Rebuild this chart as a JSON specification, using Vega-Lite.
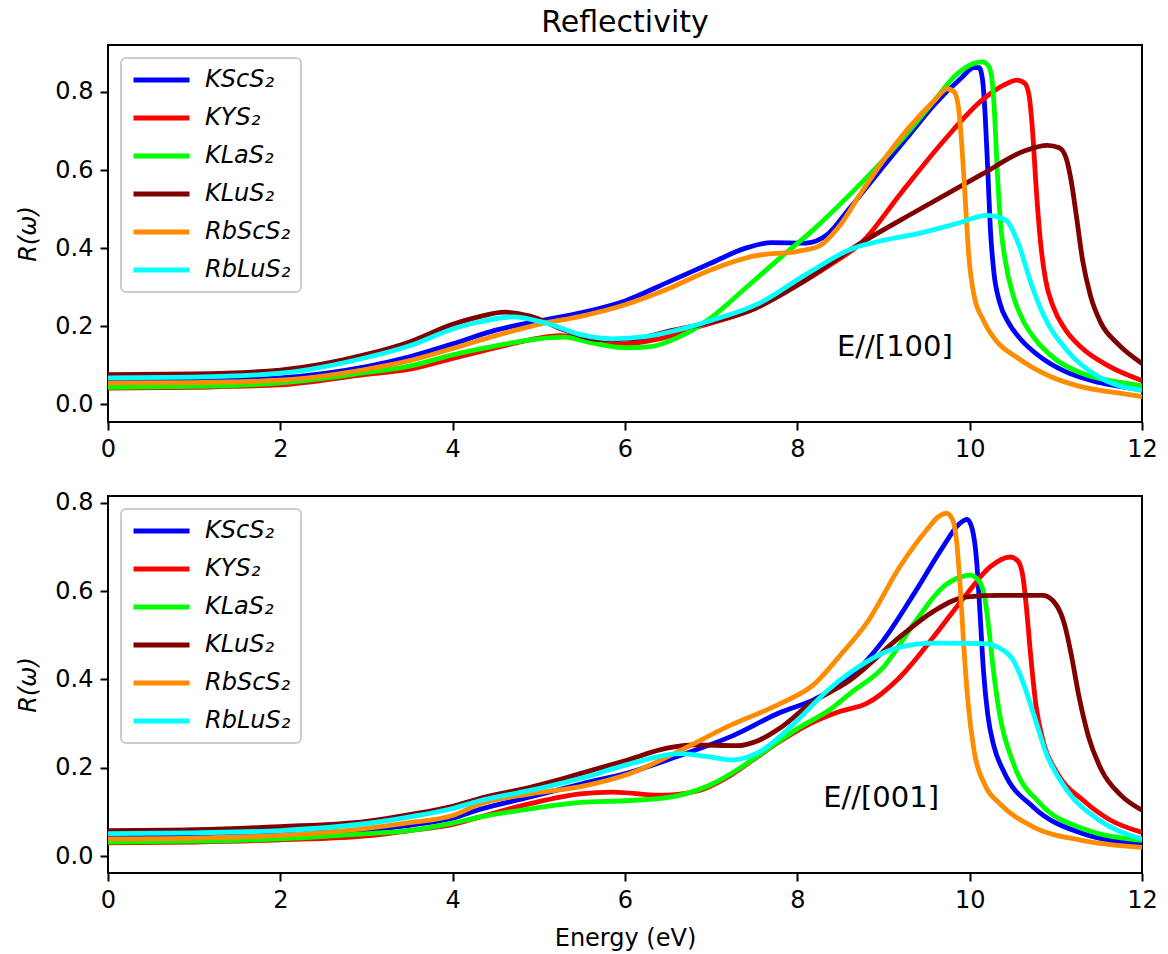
{
"$schema": "https://vega.github.io/schema/vega-lite/v6.json",
"padding": {"left": 15, "top": 8, "right": 5, "bottom": 5},
"background": "white",
"title": {"text": "Reflectivity", "fontSize": 30, "fontWeight": "normal", "anchor": "middle", "frame": "group", "offset": -18, "baseline": "alphabetic", "color": "#000", "font": "DejaVu Sans"},
"datasets": {
"top": [
{"m":"KScS₂","E":0,"R":0.058},{"m":"KScS₂","E":1,"R":0.06},{"m":"KScS₂","E":2,"R":0.068},{"m":"KScS₂","E":3,"R":0.097},{"m":"KScS₂","E":3.5,"R":0.122},{"m":"KScS₂","E":4,"R":0.155},{"m":"KScS₂","E":4.5,"R":0.19},{"m":"KScS₂","E":5,"R":0.214},{"m":"KScS₂","E":5.5,"R":0.235},{"m":"KScS₂","E":6,"R":0.265},{"m":"KScS₂","E":6.5,"R":0.313},{"m":"KScS₂","E":7,"R":0.362},{"m":"KScS₂","E":7.4,"R":0.4},{"m":"KScS₂","E":7.7,"R":0.414},{"m":"KScS₂","E":8.1,"R":0.413},{"m":"KScS₂","E":8.35,"R":0.435},{"m":"KScS₂","E":8.6,"R":0.5},{"m":"KScS₂","E":9,"R":0.61},{"m":"KScS₂","E":9.3,"R":0.69},{"m":"KScS₂","E":9.6,"R":0.77},{"m":"KScS₂","E":9.9,"R":0.835},{"m":"KScS₂","E":10.05,"R":0.862},{"m":"KScS₂","E":10.11,"R":0.862},{"m":"KScS₂","E":10.15,"R":0.83},{"m":"KScS₂","E":10.18,"R":0.74},{"m":"KScS₂","E":10.21,"R":0.6},{"m":"KScS₂","E":10.24,"R":0.45},{"m":"KScS₂","E":10.28,"R":0.34},{"m":"KScS₂","E":10.35,"R":0.26},{"m":"KScS₂","E":10.45,"R":0.21},{"m":"KScS₂","E":10.6,"R":0.165},{"m":"KScS₂","E":10.8,"R":0.125},{"m":"KScS₂","E":11.1,"R":0.085},{"m":"KScS₂","E":11.5,"R":0.056},{"m":"KScS₂","E":12,"R":0.038},
{"m":"KYS₂","E":0,"R":0.042},{"m":"KYS₂","E":1,"R":0.044},{"m":"KYS₂","E":2,"R":0.05},{"m":"KYS₂","E":3,"R":0.077},{"m":"KYS₂","E":3.5,"R":0.09},{"m":"KYS₂","E":4,"R":0.118},{"m":"KYS₂","E":4.5,"R":0.145},{"m":"KYS₂","E":5,"R":0.17},{"m":"KYS₂","E":5.25,"R":0.176},{"m":"KYS₂","E":5.6,"R":0.165},{"m":"KYS₂","E":6,"R":0.155},{"m":"KYS₂","E":6.4,"R":0.168},{"m":"KYS₂","E":6.9,"R":0.202},{"m":"KYS₂","E":7.5,"R":0.245},{"m":"KYS₂","E":8,"R":0.305},{"m":"KYS₂","E":8.4,"R":0.36},{"m":"KYS₂","E":8.75,"R":0.415},{"m":"KYS₂","E":9.2,"R":0.54},{"m":"KYS₂","E":9.7,"R":0.675},{"m":"KYS₂","E":10.15,"R":0.78},{"m":"KYS₂","E":10.4,"R":0.818},{"m":"KYS₂","E":10.55,"R":0.83},{"m":"KYS₂","E":10.64,"R":0.822},{"m":"KYS₂","E":10.69,"R":0.79},{"m":"KYS₂","E":10.73,"R":0.7},{"m":"KYS₂","E":10.77,"R":0.56},{"m":"KYS₂","E":10.82,"R":0.42},{"m":"KYS₂","E":10.88,"R":0.32},{"m":"KYS₂","E":10.97,"R":0.25},{"m":"KYS₂","E":11.1,"R":0.195},{"m":"KYS₂","E":11.3,"R":0.145},{"m":"KYS₂","E":11.6,"R":0.1},{"m":"KYS₂","E":12,"R":0.061},
{"m":"KLaS₂","E":0,"R":0.044},{"m":"KLaS₂","E":1,"R":0.046},{"m":"KLaS₂","E":2,"R":0.055},{"m":"KLaS₂","E":3,"R":0.082},{"m":"KLaS₂","E":3.5,"R":0.098},{"m":"KLaS₂","E":4,"R":0.127},{"m":"KLaS₂","E":4.5,"R":0.15},{"m":"KLaS₂","E":5,"R":0.168},{"m":"KLaS₂","E":5.3,"R":0.172},{"m":"KLaS₂","E":5.6,"R":0.158},{"m":"KLaS₂","E":6,"R":0.145},{"m":"KLaS₂","E":6.3,"R":0.148},{"m":"KLaS₂","E":6.6,"R":0.17},{"m":"KLaS₂","E":7,"R":0.222},{"m":"KLaS₂","E":7.4,"R":0.298},{"m":"KLaS₂","E":7.8,"R":0.375},{"m":"KLaS₂","E":8.2,"R":0.45},{"m":"KLaS₂","E":8.6,"R":0.535},{"m":"KLaS₂","E":9.2,"R":0.675},{"m":"KLaS₂","E":9.58,"R":0.775},{"m":"KLaS₂","E":9.85,"R":0.845},{"m":"KLaS₂","E":10.05,"R":0.873},{"m":"KLaS₂","E":10.15,"R":0.877},{"m":"KLaS₂","E":10.22,"R":0.866},{"m":"KLaS₂","E":10.26,"R":0.83},{"m":"KLaS₂","E":10.29,"R":0.74},{"m":"KLaS₂","E":10.32,"R":0.6},{"m":"KLaS₂","E":10.36,"R":0.46},{"m":"KLaS₂","E":10.42,"R":0.36},{"m":"KLaS₂","E":10.51,"R":0.275},{"m":"KLaS₂","E":10.62,"R":0.215},{"m":"KLaS₂","E":10.75,"R":0.17},{"m":"KLaS₂","E":11,"R":0.115},{"m":"KLaS₂","E":11.3,"R":0.08},{"m":"KLaS₂","E":11.6,"R":0.062},{"m":"KLaS₂","E":12,"R":0.048},
{"m":"KLuS₂","E":0,"R":0.076},{"m":"KLuS₂","E":1,"R":0.078},{"m":"KLuS₂","E":2,"R":0.088},{"m":"KLuS₂","E":3,"R":0.128},{"m":"KLuS₂","E":3.5,"R":0.16},{"m":"KLuS₂","E":4,"R":0.205},{"m":"KLuS₂","E":4.3,"R":0.224},{"m":"KLuS₂","E":4.6,"R":0.236},{"m":"KLuS₂","E":4.9,"R":0.226},{"m":"KLuS₂","E":5.3,"R":0.19},{"m":"KLuS₂","E":5.7,"R":0.166},{"m":"KLuS₂","E":6.1,"R":0.168},{"m":"KLuS₂","E":6.5,"R":0.187},{"m":"KLuS₂","E":7,"R":0.211},{"m":"KLuS₂","E":7.5,"R":0.245},{"m":"KLuS₂","E":8,"R":0.305},{"m":"KLuS₂","E":8.7,"R":0.408},{"m":"KLuS₂","E":9.4,"R":0.497},{"m":"KLuS₂","E":10.15,"R":0.59},{"m":"KLuS₂","E":10.65,"R":0.65},{"m":"KLuS₂","E":10.9,"R":0.663},{"m":"KLuS₂","E":11.04,"R":0.657},{"m":"KLuS₂","E":11.12,"R":0.63},{"m":"KLuS₂","E":11.18,"R":0.57},{"m":"KLuS₂","E":11.24,"R":0.48},{"m":"KLuS₂","E":11.31,"R":0.37},{"m":"KLuS₂","E":11.4,"R":0.28},{"m":"KLuS₂","E":11.52,"R":0.21},{"m":"KLuS₂","E":11.72,"R":0.155},{"m":"KLuS₂","E":12,"R":0.105},
{"m":"RbScS₂","E":0,"R":0.055},{"m":"RbScS₂","E":1,"R":0.056},{"m":"RbScS₂","E":2,"R":0.062},{"m":"RbScS₂","E":3,"R":0.09},{"m":"RbScS₂","E":3.5,"R":0.112},{"m":"RbScS₂","E":4,"R":0.143},{"m":"RbScS₂","E":4.5,"R":0.176},{"m":"RbScS₂","E":5,"R":0.205},{"m":"RbScS₂","E":5.5,"R":0.226},{"m":"RbScS₂","E":6,"R":0.255},{"m":"RbScS₂","E":6.5,"R":0.296},{"m":"RbScS₂","E":7,"R":0.345},{"m":"RbScS₂","E":7.5,"R":0.38},{"m":"RbScS₂","E":8,"R":0.392},{"m":"RbScS₂","E":8.25,"R":0.405},{"m":"RbScS₂","E":8.5,"R":0.46},{"m":"RbScS₂","E":8.75,"R":0.545},{"m":"RbScS₂","E":9,"R":0.625},{"m":"RbScS₂","E":9.3,"R":0.71},{"m":"RbScS₂","E":9.6,"R":0.78},{"m":"RbScS₂","E":9.74,"R":0.808},{"m":"RbScS₂","E":9.82,"R":0.8},{"m":"RbScS₂","E":9.87,"R":0.76},{"m":"RbScS₂","E":9.91,"R":0.66},{"m":"RbScS₂","E":9.95,"R":0.52},{"m":"RbScS₂","E":9.99,"R":0.38},{"m":"RbScS₂","E":10.05,"R":0.28},{"m":"RbScS₂","E":10.16,"R":0.215},{"m":"RbScS₂","E":10.3,"R":0.165},{"m":"RbScS₂","E":10.55,"R":0.12},{"m":"RbScS₂","E":10.93,"R":0.072},{"m":"RbScS₂","E":11.3,"R":0.045},{"m":"RbScS₂","E":11.7,"R":0.03},{"m":"RbScS₂","E":12,"R":0.02},
{"m":"RbLuS₂","E":0,"R":0.068},{"m":"RbLuS₂","E":1,"R":0.07},{"m":"RbLuS₂","E":2,"R":0.08},{"m":"RbLuS₂","E":3,"R":0.12},{"m":"RbLuS₂","E":3.5,"R":0.15},{"m":"RbLuS₂","E":4,"R":0.193},{"m":"RbLuS₂","E":4.3,"R":0.211},{"m":"RbLuS₂","E":4.7,"R":0.224},{"m":"RbLuS₂","E":5.1,"R":0.207},{"m":"RbLuS₂","E":5.5,"R":0.178},{"m":"RbLuS₂","E":5.85,"R":0.168},{"m":"RbLuS₂","E":6.25,"R":0.174},{"m":"RbLuS₂","E":6.6,"R":0.19},{"m":"RbLuS₂","E":7,"R":0.215},{"m":"RbLuS₂","E":7.55,"R":0.258},{"m":"RbLuS₂","E":8.1,"R":0.333},{"m":"RbLuS₂","E":8.65,"R":0.4},{"m":"RbLuS₂","E":9,"R":0.42},{"m":"RbLuS₂","E":9.4,"R":0.437},{"m":"RbLuS₂","E":9.85,"R":0.463},{"m":"RbLuS₂","E":10.2,"R":0.484},{"m":"RbLuS₂","E":10.32,"R":0.48},{"m":"RbLuS₂","E":10.43,"R":0.47},{"m":"RbLuS₂","E":10.58,"R":0.403},{"m":"RbLuS₂","E":10.7,"R":0.318},{"m":"RbLuS₂","E":10.85,"R":0.232},{"m":"RbLuS₂","E":11.13,"R":0.138},{"m":"RbLuS₂","E":11.5,"R":0.07},{"m":"RbLuS₂","E":12,"R":0.036}
],
"bottom": [
{"m":"KScS₂","E":0,"R":0.045},{"m":"KScS₂","E":1,"R":0.046},{"m":"KScS₂","E":2,"R":0.05},{"m":"KScS₂","E":3,"R":0.06},{"m":"KScS₂","E":3.5,"R":0.07},{"m":"KScS₂","E":4,"R":0.086},{"m":"KScS₂","E":4.3,"R":0.105},{"m":"KScS₂","E":4.9,"R":0.134},{"m":"KScS₂","E":5.5,"R":0.164},{"m":"KScS₂","E":6.06,"R":0.19},{"m":"KScS₂","E":6.64,"R":0.228},{"m":"KScS₂","E":7.22,"R":0.27},{"m":"KScS₂","E":7.8,"R":0.325},{"m":"KScS₂","E":8.2,"R":0.355},{"m":"KScS₂","E":8.61,"R":0.405},{"m":"KScS₂","E":9,"R":0.489},{"m":"KScS₂","E":9.38,"R":0.602},{"m":"KScS₂","E":9.69,"R":0.7},{"m":"KScS₂","E":9.88,"R":0.752},{"m":"KScS₂","E":9.97,"R":0.762},{"m":"KScS₂","E":10.03,"R":0.74},{"m":"KScS₂","E":10.08,"R":0.67},{"m":"KScS₂","E":10.12,"R":0.55},{"m":"KScS₂","E":10.16,"R":0.42},{"m":"KScS₂","E":10.21,"R":0.32},{"m":"KScS₂","E":10.28,"R":0.25},{"m":"KScS₂","E":10.4,"R":0.19},{"m":"KScS₂","E":10.74,"R":0.111},{"m":"KScS₂","E":11.3,"R":0.052},{"m":"KScS₂","E":12,"R":0.028},
{"m":"KYS₂","E":0,"R":0.03},{"m":"KYS₂","E":1,"R":0.032},{"m":"KYS₂","E":2,"R":0.037},{"m":"KYS₂","E":3,"R":0.046},{"m":"KYS₂","E":3.5,"R":0.058},{"m":"KYS₂","E":4,"R":0.072},{"m":"KYS₂","E":4.3,"R":0.088},{"m":"KYS₂","E":4.9,"R":0.119},{"m":"KYS₂","E":5.48,"R":0.141},{"m":"KYS₂","E":5.86,"R":0.145},{"m":"KYS₂","E":6.4,"R":0.138},{"m":"KYS₂","E":6.83,"R":0.147},{"m":"KYS₂","E":7.2,"R":0.18},{"m":"KYS₂","E":7.5,"R":0.22},{"m":"KYS₂","E":7.8,"R":0.26},{"m":"KYS₂","E":8.15,"R":0.3},{"m":"KYS₂","E":8.5,"R":0.328},{"m":"KYS₂","E":8.8,"R":0.345},{"m":"KYS₂","E":9.19,"R":0.405},{"m":"KYS₂","E":9.58,"R":0.496},{"m":"KYS₂","E":9.97,"R":0.594},{"m":"KYS₂","E":10.24,"R":0.655},{"m":"KYS₂","E":10.47,"R":0.677},{"m":"KYS₂","E":10.56,"R":0.668},{"m":"KYS₂","E":10.62,"R":0.63},{"m":"KYS₂","E":10.66,"R":0.56},{"m":"KYS₂","E":10.71,"R":0.45},{"m":"KYS₂","E":10.77,"R":0.34},{"m":"KYS₂","E":10.86,"R":0.255},{"m":"KYS₂","E":11.01,"R":0.19},{"m":"KYS₂","E":11.32,"R":0.126},{"m":"KYS₂","E":11.63,"R":0.082},{"m":"KYS₂","E":12,"R":0.054},
{"m":"KLaS₂","E":0,"R":0.032},{"m":"KLaS₂","E":1,"R":0.034},{"m":"KLaS₂","E":2,"R":0.039},{"m":"KLaS₂","E":3,"R":0.051},{"m":"KLaS₂","E":3.5,"R":0.058},{"m":"KLaS₂","E":4,"R":0.075},{"m":"KLaS₂","E":4.3,"R":0.088},{"m":"KLaS₂","E":4.9,"R":0.107},{"m":"KLaS₂","E":5.48,"R":0.122},{"m":"KLaS₂","E":6.06,"R":0.126},{"m":"KLaS₂","E":6.56,"R":0.135},{"m":"KLaS₂","E":7.02,"R":0.164},{"m":"KLaS₂","E":7.3,"R":0.195},{"m":"KLaS₂","E":7.6,"R":0.235},{"m":"KLaS₂","E":8.03,"R":0.292},{"m":"KLaS₂","E":8.38,"R":0.332},{"m":"KLaS₂","E":8.61,"R":0.368},{"m":"KLaS₂","E":9,"R":0.428},{"m":"KLaS₂","E":9.38,"R":0.534},{"m":"KLaS₂","E":9.69,"R":0.609},{"m":"KLaS₂","E":9.9,"R":0.632},{"m":"KLaS₂","E":10,"R":0.636},{"m":"KLaS₂","E":10.1,"R":0.625},{"m":"KLaS₂","E":10.17,"R":0.59},{"m":"KLaS₂","E":10.22,"R":0.52},{"m":"KLaS₂","E":10.27,"R":0.43},{"m":"KLaS₂","E":10.34,"R":0.33},{"m":"KLaS₂","E":10.51,"R":0.209},{"m":"KLaS₂","E":10.82,"R":0.119},{"m":"KLaS₂","E":11.32,"R":0.062},{"m":"KLaS₂","E":12,"R":0.036},
{"m":"KLuS₂","E":0,"R":0.058},{"m":"KLuS₂","E":1,"R":0.06},{"m":"KLuS₂","E":2,"R":0.067},{"m":"KLuS₂","E":3,"R":0.079},{"m":"KLuS₂","E":3.5,"R":0.094},{"m":"KLuS₂","E":4,"R":0.113},{"m":"KLuS₂","E":4.3,"R":0.13},{"m":"KLuS₂","E":4.9,"R":0.156},{"m":"KLuS₂","E":5.5,"R":0.188},{"m":"KLuS₂","E":6,"R":0.216},{"m":"KLuS₂","E":6.5,"R":0.245},{"m":"KLuS₂","E":6.8,"R":0.252},{"m":"KLuS₂","E":7.3,"R":0.25},{"m":"KLuS₂","E":7.55,"R":0.262},{"m":"KLuS₂","E":7.8,"R":0.29},{"m":"KLuS₂","E":8.15,"R":0.345},{"m":"KLuS₂","E":8.61,"R":0.398},{"m":"KLuS₂","E":9.19,"R":0.496},{"m":"KLuS₂","E":9.58,"R":0.554},{"m":"KLuS₂","E":9.97,"R":0.587},{"m":"KLuS₂","E":10.35,"R":0.59},{"m":"KLuS₂","E":10.85,"R":0.59},{"m":"KLuS₂","E":11,"R":0.57},{"m":"KLuS₂","E":11.1,"R":0.525},{"m":"KLuS₂","E":11.18,"R":0.455},{"m":"KLuS₂","E":11.27,"R":0.36},{"m":"KLuS₂","E":11.38,"R":0.27},{"m":"KLuS₂","E":11.53,"R":0.195},{"m":"KLuS₂","E":11.76,"R":0.137},{"m":"KLuS₂","E":12,"R":0.104},
{"m":"RbScS₂","E":0,"R":0.039},{"m":"RbScS₂","E":1,"R":0.041},{"m":"RbScS₂","E":2,"R":0.047},{"m":"RbScS₂","E":3,"R":0.063},{"m":"RbScS₂","E":3.5,"R":0.076},{"m":"RbScS₂","E":4,"R":0.092},{"m":"RbScS₂","E":4.3,"R":0.117},{"m":"RbScS₂","E":4.9,"R":0.141},{"m":"RbScS₂","E":5.5,"R":0.158},{"m":"RbScS₂","E":6.06,"R":0.187},{"m":"RbScS₂","E":6.64,"R":0.239},{"m":"RbScS₂","E":7.22,"R":0.296},{"m":"RbScS₂","E":7.8,"R":0.345},{"m":"RbScS₂","E":8.2,"R":0.39},{"m":"RbScS₂","E":8.5,"R":0.455},{"m":"RbScS₂","E":8.8,"R":0.526},{"m":"RbScS₂","E":9.19,"R":0.655},{"m":"RbScS₂","E":9.5,"R":0.738},{"m":"RbScS₂","E":9.65,"R":0.77},{"m":"RbScS₂","E":9.73,"R":0.776},{"m":"RbScS₂","E":9.8,"R":0.762},{"m":"RbScS₂","E":9.85,"R":0.71},{"m":"RbScS₂","E":9.89,"R":0.61},{"m":"RbScS₂","E":9.93,"R":0.48},{"m":"RbScS₂","E":9.98,"R":0.35},{"m":"RbScS₂","E":10.05,"R":0.24},{"m":"RbScS₂","E":10.18,"R":0.16},{"m":"RbScS₂","E":10.35,"R":0.119},{"m":"RbScS₂","E":10.74,"R":0.066},{"m":"RbScS₂","E":11.3,"R":0.036},{"m":"RbScS₂","E":12,"R":0.02},
{"m":"RbLuS₂","E":0,"R":0.051},{"m":"RbLuS₂","E":1,"R":0.053},{"m":"RbLuS₂","E":2,"R":0.058},{"m":"RbLuS₂","E":3,"R":0.074},{"m":"RbLuS₂","E":3.5,"R":0.089},{"m":"RbLuS₂","E":4,"R":0.108},{"m":"RbLuS₂","E":4.3,"R":0.125},{"m":"RbLuS₂","E":4.9,"R":0.149},{"m":"RbLuS₂","E":5.5,"R":0.177},{"m":"RbLuS₂","E":6.06,"R":0.209},{"m":"RbLuS₂","E":6.64,"R":0.232},{"m":"RbLuS₂","E":7,"R":0.224},{"m":"RbLuS₂","E":7.25,"R":0.218},{"m":"RbLuS₂","E":7.55,"R":0.235},{"m":"RbLuS₂","E":7.96,"R":0.3},{"m":"RbLuS₂","E":8.35,"R":0.375},{"m":"RbLuS₂","E":8.61,"R":0.415},{"m":"RbLuS₂","E":9.19,"R":0.473},{"m":"RbLuS₂","E":9.58,"R":0.482},{"m":"RbLuS₂","E":10.16,"R":0.481},{"m":"RbLuS₂","E":10.39,"R":0.466},{"m":"RbLuS₂","E":10.5,"R":0.445},{"m":"RbLuS₂","E":10.58,"R":0.413},{"m":"RbLuS₂","E":10.74,"R":0.323},{"m":"RbLuS₂","E":10.89,"R":0.232},{"m":"RbLuS₂","E":11.13,"R":0.149},{"m":"RbLuS₂","E":11.5,"R":0.082},{"m":"RbLuS₂","E":12,"R":0.039}
],
"ann1": [{"E": 8.46, "R": 0.125, "t": "E//[100]"}],
"ann2": [{"E": 8.3, "R": 0.111, "t": "E//[001]"}]
},
"spacing": 74,
"bounds": "flush",
"resolve": {"scale": {"y": "independent", "color": "independent"}, "legend": {"color": "independent"}},
"vconcat": [
{
"width": 1034, "height": 377,
"layer": [
{
"data": {"name": "top"},
"mark": {"type": "line", "strokeWidth": 4.8, "interpolate": "monotone", "clip": true},
"encoding": {
"x": {"field": "E", "type": "quantitative", "scale": {"domain": [0, 12], "nice": false, "zero": false}, "axis": {"values": [0, 2, 4, 6, 8, 10, 12], "format": "d", "title": null}},
"y": {"field": "R", "type": "quantitative", "scale": {"domain": [-0.045, 0.92], "nice": false, "zero": false}, "axis": {"values": [0, 0.2, 0.4, 0.6, 0.8], "format": ".1f", "title": "R(ω)", "titleFontStyle": "italic"}},
"color": {"field": "m", "type": "nominal", "sort": null, "scale": {"domain": ["KScS₂", "KYS₂", "KLaS₂", "KLuS₂", "RbScS₂", "RbLuS₂"], "range": ["#0000ff", "#ff0000", "#00ff00", "#800000", "#ff8c00", "#00ffff"]}, "legend": {"title": null}}
}
},
{
"data": {"name": "ann1"},
"mark": {"type": "text", "align": "left", "baseline": "alphabetic", "fontSize": 29, "font": "DejaVu Sans", "color": "#000"},
"encoding": {"x": {"field": "E", "type": "quantitative"}, "y": {"field": "R", "type": "quantitative"}, "text": {"field": "t"}}
}
]
},
{
"width": 1034, "height": 377,
"layer": [
{
"data": {"name": "bottom"},
"mark": {"type": "line", "strokeWidth": 4.8, "interpolate": "monotone", "clip": true},
"encoding": {
"x": {"field": "E", "type": "quantitative", "scale": {"domain": [0, 12], "nice": false, "zero": false}, "axis": {"values": [0, 2, 4, 6, 8, 10, 12], "format": "d", "title": "Energy (eV)"}},
"y": {"field": "R", "type": "quantitative", "scale": {"domain": [-0.038, 0.815], "nice": false, "zero": false}, "axis": {"values": [0, 0.2, 0.4, 0.6, 0.8], "format": ".1f", "title": "R(ω)", "titleFontStyle": "italic"}},
"color": {"field": "m", "type": "nominal", "sort": null, "scale": {"domain": ["KScS₂", "KYS₂", "KLaS₂", "KLuS₂", "RbScS₂", "RbLuS₂"], "range": ["#0000ff", "#ff0000", "#00ff00", "#800000", "#ff8c00", "#00ffff"]}, "legend": {"title": null}}
}
},
{
"data": {"name": "ann2"},
"mark": {"type": "text", "align": "left", "baseline": "alphabetic", "fontSize": 29, "font": "DejaVu Sans", "color": "#000"},
"encoding": {"x": {"field": "E", "type": "quantitative"}, "y": {"field": "R", "type": "quantitative"}, "text": {"field": "t"}}
}
]
}
],
"config": {
"font": "DejaVu Sans",
"view": {"stroke": "#000", "strokeWidth": 2},
"axis": {"domain": false, "grid": false, "ticks": true, "tickSize": 8, "tickWidth": 2, "tickColor": "#000", "labelFont": "DejaVu Sans", "labelFontSize": 24, "labelColor": "#000", "labelPadding": 7, "labelFlush": false, "titleFont": "DejaVu Sans", "titleFontSize": 24, "titleFontWeight": "normal", "titleColor": "#000", "titlePadding": 14},
"legend": {"orient": "top-left", "offset": 13, "symbolType": "stroke", "symbolSize": 3136, "symbolStrokeWidth": 4.8, "labelFont": "DejaVu Sans", "labelFontSize": 24, "labelFontStyle": "italic", "labelColor": "#000", "labelOffset": 13, "rowPadding": 14, "padding": 10, "clipHeight": 24, "strokeColor": "#cccccc", "strokeWidth": 2, "fillColor": "rgba(255,255,255,0.8)", "cornerRadius": 5, "labelLimit": 400}
}
}
